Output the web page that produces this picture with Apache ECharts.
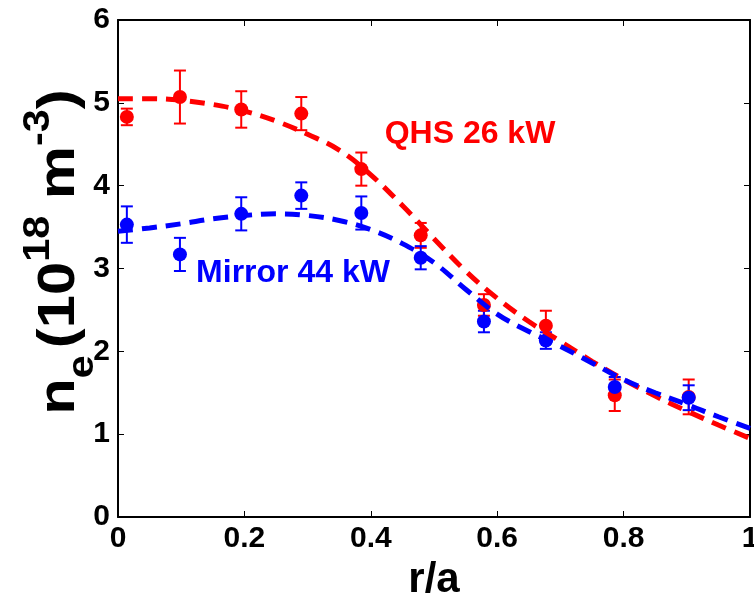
<!DOCTYPE html>
<html><head><meta charset="utf-8">
<script src="https://cdn.jsdelivr.net/npm/echarts@6/dist/echarts.min.js"></script>
<style>html,body{margin:0;padding:0;background:#fff}#c{width:754px;height:595px}</style>
</head><body><div id="c"></div>
<script>
// Measured points
const rPos = [0.014, 0.098, 0.195, 0.29, 0.385, 0.479, 0.579, 0.677, 0.786, 0.903];
const qhsVals = [4.83, 5.07, 4.92, 4.87, 4.20, 3.40, 2.56, 2.31, 1.47, 1.45];
const qhsErr  = [0.10, 0.32, 0.22, 0.20, 0.20, 0.15, 0.13, 0.18, 0.19, 0.21];
const mirVals = [3.53, 3.17, 3.66, 3.88, 3.67, 3.13, 2.36, 2.13, 1.57, 1.44];
const mirErr  = [0.22, 0.20, 0.20, 0.16, 0.20, 0.14, 0.13, 0.10, 0.12, 0.15];
// Fit curves
const fitX   = [0, 0.05, 0.1, 0.15, 0.2, 0.25, 0.3, 0.35, 0.4, 0.45, 0.5, 0.55, 0.6, 0.65, 0.7, 0.75, 0.8, 0.85, 0.9, 0.95, 1.0];
const qhsFit = [5.05, 5.05, 5.03, 4.98, 4.90, 4.78, 4.62, 4.43, 4.13, 3.76, 3.36, 2.97, 2.64, 2.36, 2.12, 1.88, 1.66, 1.46, 1.28, 1.11, 0.95];
const mirFit = [3.45, 3.49, 3.54, 3.60, 3.64, 3.66, 3.64, 3.58, 3.47, 3.30, 3.07, 2.75, 2.45, 2.24, 2.06, 1.86, 1.66, 1.50, 1.36, 1.21, 1.07];
const xTicks = [0, 0.2, 0.4, 0.6, 0.8, 1];
const yTicks = [0, 1, 2, 3, 4, 5, 6];
const labelQHS = 'QHS 26 kW';
const labelMir = 'Mirror 44 kW';
const xTitle = 'r/a';

const RED = '#ff0000', BLUE = '#0000ff';
const FONT = '"Liberation Sans", Arial, sans-serif';

function zip(a, b) { return a.map((v, i) => [v, b[i]]); }
function errData(xs, ys, es) { return xs.map((x, i) => [x, ys[i] - es[i], ys[i] + es[i]]); }
function errSeries(data, color) {
  return {
    type: 'custom', data: data, z: 3,
    renderItem: function (params, api) {
      const x = api.value(0);
      const lo = api.coord([x, api.value(1)]);
      const hi = api.coord([x, api.value(2)]);
      const w = 6;
      const st = { stroke: color, lineWidth: 2 };
      return { type: 'group', children: [
        { type: 'line', shape: { x1: lo[0], y1: lo[1], x2: hi[0], y2: hi[1] }, style: st },
        { type: 'line', shape: { x1: lo[0] - w, y1: lo[1], x2: lo[0] + w, y2: lo[1] }, style: st },
        { type: 'line', shape: { x1: hi[0] - w, y1: hi[1], x2: hi[0] + w, y2: hi[1] }, style: st }
      ]};
    },
    encode: { x: 0, y: [1, 2] }
  };
}

const chart = echarts.init(document.getElementById('c'));
const axisLabel = { fontFamily: FONT, fontWeight: 'bold', fontSize: 30, color: '#000' };
chart.setOption({
  animation: false,
  backgroundColor: '#fff',
  grid: { left: 118, right: 4, top: 20, bottom: 78, containLabel: false, outerBoundsMode: 'none' },
  xAxis: [{
    type: 'value', min: 0, max: 1, interval: 0.2,
    axisLine: { show: true, lineStyle: { color: '#000', width: 2 } },
    axisTick: { inside: true, length: 6, lineStyle: { color: '#000' } },
    splitLine: { show: false },
    axisLabel: Object.assign({ margin: 7, formatter: v => String(+v.toFixed(1)) }, axisLabel),
    name: xTitle, nameLocation: 'middle', nameGap: 42,
    nameTextStyle: { fontFamily: FONT, fontWeight: 'bold', fontSize: 42, color: '#000', verticalAlign: 'top' }
  }, {
    type: 'value', min: 0, max: 1, interval: 0.2, position: 'top',
    axisLine: { show: true, onZero: false, lineStyle: { color: '#000', width: 2 } },
    axisTick: { inside: true, length: 6, lineStyle: { color: '#000' } },
    axisLabel: { show: false }, splitLine: { show: false }
  }],
  yAxis: [{
    type: 'value', min: 0, max: 6, interval: 1,
    axisLine: { show: true, lineStyle: { color: '#000', width: 2 } },
    axisTick: { inside: true, length: 6, lineStyle: { color: '#000' } },
    splitLine: { show: false },
    axisLabel: Object.assign({ margin: 8 }, axisLabel)
  }, {
    type: 'value', min: 0, max: 6, interval: 1, position: 'right',
    axisLine: { show: true, onZero: false, lineStyle: { color: '#000', width: 2 } },
    axisTick: { inside: true, length: 6, lineStyle: { color: '#000' } },
    axisLabel: { show: false }, splitLine: { show: false }
  }],
  series: [
    errSeries(errData(rPos, qhsVals, qhsErr), RED),
    { type: 'scatter', data: zip(rPos, qhsVals), symbol: 'circle', symbolSize: 14, itemStyle: { color: RED, opacity: 1 }, z: 4 },
    errSeries(errData(rPos, mirVals, mirErr), BLUE),
    { type: 'scatter', data: zip(rPos, mirVals), symbol: 'circle', symbolSize: 14, itemStyle: { color: BLUE, opacity: 1 }, z: 4 },
    { type: 'line', data: zip(fitX, qhsFit), smooth: 0.4, showSymbol: false, z: 5,
      lineStyle: { color: RED, width: 5, type: [15, 9] } },
    { type: 'line', data: zip(fitX, mirFit), smooth: 0.4, showSymbol: false, z: 6,
      lineStyle: { color: BLUE, width: 5, type: [15, 9] } }
  ],
  graphic: [
    { type: 'text', x: 470, y: 134, style: { text: labelQHS, fill: RED, font: 'bold 32px ' + FONT, align: 'center', verticalAlign: 'middle' } },
    { type: 'text', x: 293, y: 273, style: { text: labelMir, fill: BLUE, font: 'bold 32px ' + FONT, align: 'center', verticalAlign: 'middle' } },
    { type: 'text', x: 60, y: 252, rotation: Math.PI / 2, scaleX: 1.15,
      style: {
        text: '{b|n}{sub|e}{b|(10}{sup|18}{b| m}{sup|-3}{b|)}',
        align: 'center', verticalAlign: 'middle',
        rich: {
          b: { fontFamily: FONT, fontWeight: 'bold', fontSize: 52, fill: '#000', lineHeight: 90, verticalAlign: 'middle' },
          sub: { fontFamily: FONT, fontWeight: 'bold', fontSize: 36, fill: '#000', lineHeight: 90, verticalAlign: 'bottom', padding: [0, 6, 4, 0] },
          sup: { fontFamily: FONT, fontWeight: 'bold', fontSize: 36, fill: '#000', lineHeight: 90, verticalAlign: 'top', padding: [6, 0, 0, 0] }
        }
      }
    }
  ]
});
</script>
</body></html>
